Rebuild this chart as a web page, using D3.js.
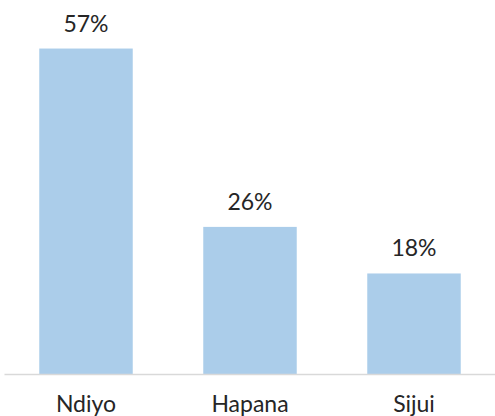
<!DOCTYPE html>
<html lang="sw">
<head>
  <meta charset="UTF-8">
  <title>Ndiyo / Hapana / Sijui</title>
  <script src="https://d3js.org/d3.v7.min.js"></script>
  <style>
    body { margin: 0; background: #fff; font-family: Lato, "Open Sans", sans-serif; }
    svg { display: block; }
    .label { font-size: 23px; fill: #262626; }
  </style>
</head>
<body>
  <svg id="chart"></svg>
  <script>
    // data
    const categories = ["Ndiyo", "Hapana", "Sijui"];
    const values = [57.3, 25.9, 17.7];

    const W = 495, H = 416;
    const baseY = 374;

    const svg = d3.select("#chart").attr("width", W).attr("height", H);

    const x = d3.scaleBand()
      .domain(categories)
      .range([4, 496])
      .paddingInner(0.43)
      .paddingOuter(0.215);

    const y = d3.scaleLinear()
      .domain([0, 65])
      .range([baseY, baseY - 65 * 5.68]);

    const data = categories.map((c, i) => ({ cat: c, val: values[i] }));

    svg.selectAll(".bar")
      .data(data)
      .enter().append("rect")
      .attr("class", "bar")
      .attr("x", d => x(d.cat))
      .attr("y", d => y(d.val))
      .attr("width", x.bandwidth())
      .attr("height", d => baseY - y(d.val))
      .attr("fill", "#abcdea");

    // value labels
    svg.selectAll(".val")
      .data(data)
      .enter().append("text")
      .attr("class", "label")
      .attr("x", d => x(d.cat) + x.bandwidth() / 2)
      .attr("y", d => y(d.val) - 17)
      .attr("text-anchor", "middle")
      .text(d => d3.format(".0f")(d.val) + "%");

    // x axis
    const axis = svg.append("g")
      .attr("transform", `translate(0,${baseY})`)
      .call(d3.axisBottom(x).tickSize(0).tickPadding(0));
    axis.select(".domain").attr("stroke", "#d9d9d9").attr("stroke-width", 1.5);
    axis.selectAll("text")
      .attr("class", "label")
      .attr("dy", null)
      .attr("y", 38)
      .style("font-family", "Lato, 'Open Sans', sans-serif")
      .style("font-size", "23px")
      .attr("fill", "#262626");
  </script>
</body>
</html>
